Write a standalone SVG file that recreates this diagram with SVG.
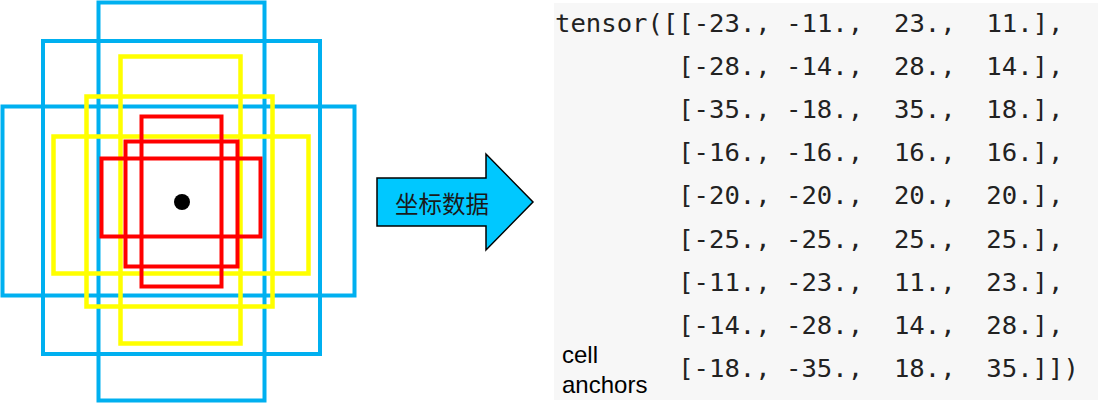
<svg xmlns="http://www.w3.org/2000/svg" width="1098" height="415" viewBox="0 0 1098 415">
<style>
.b{fill:none;stroke:#00B0F0;stroke-width:4}
.y{fill:none;stroke:#FFFF00;stroke-width:4.5}
.r{fill:none;stroke:#FF0000;stroke-width:4}
.code{font-family:"DejaVu Sans Mono","Liberation Mono",monospace;font-size:25.6px;fill:#222;white-space:pre}
.lbl{font-family:"Liberation Sans",Arial,sans-serif;font-size:24px;fill:#000}
.cjk{font-family:"Noto Sans CJK SC",sans-serif;font-size:23.5px;fill:#1a1a1a}
</style>
<rect width="1098" height="415" fill="#fff"/>
<g id="anchors">
<rect class="b" x="98.5" y="2.5" width="166" height="398"/>
<rect class="b" x="43" y="41" width="277" height="313"/>
<rect class="b" x="2.5" y="106.5" width="352" height="189"/>
<rect class="y" x="120.5" y="56.5" width="120" height="287"/>
<rect class="y" x="86.5" y="96.5" width="186" height="210"/>
<rect class="y" x="53.5" y="136.5" width="255" height="137"/>
<rect class="r" x="141.5" y="116.5" width="80" height="170"/>
<rect class="r" x="125.5" y="141.5" width="112" height="125"/>
<rect class="r" x="101.5" y="158.5" width="159" height="78"/>
<circle cx="182" cy="202" r="8" fill="#000"/>
</g>
<g id="arrow">
<polygon points="377,178 486,178 486,154 533,202 486,250 486,226 377,226" fill="#00C8FF" stroke="#000" stroke-width="1.5" stroke-linejoin="miter"/>
<text class="cjk" x="442" y="213" text-anchor="middle">坐标数据</text>
</g>
<g id="tensor">
<rect x="554" y="3" width="544" height="397" fill="#F7F7F7"/>
<text class="code" x="555" y="32">tensor([[-23., -11.,  23.,  11.],</text>
<text class="code" x="678.2" y="75.1">[-28., -14.,  28.,  14.],</text>
<text class="code" x="678.2" y="118.2">[-35., -18.,  35.,  18.],</text>
<text class="code" x="678.2" y="161.3">[-16., -16.,  16.,  16.],</text>
<text class="code" x="678.2" y="204.4">[-20., -20.,  20.,  20.],</text>
<text class="code" x="678.2" y="247.5">[-25., -25.,  25.,  25.],</text>
<text class="code" x="678.2" y="290.6">[-11., -23.,  11.,  23.],</text>
<text class="code" x="678.2" y="333.7">[-14., -28.,  14.,  28.],</text>
<text class="code" x="678.2" y="376.8">[-18., -35.,  18.,  35.]])</text>
<text class="lbl" x="562" y="363">cell</text>
<text class="lbl" x="562" y="393">anchors</text>
</g>
</svg>
